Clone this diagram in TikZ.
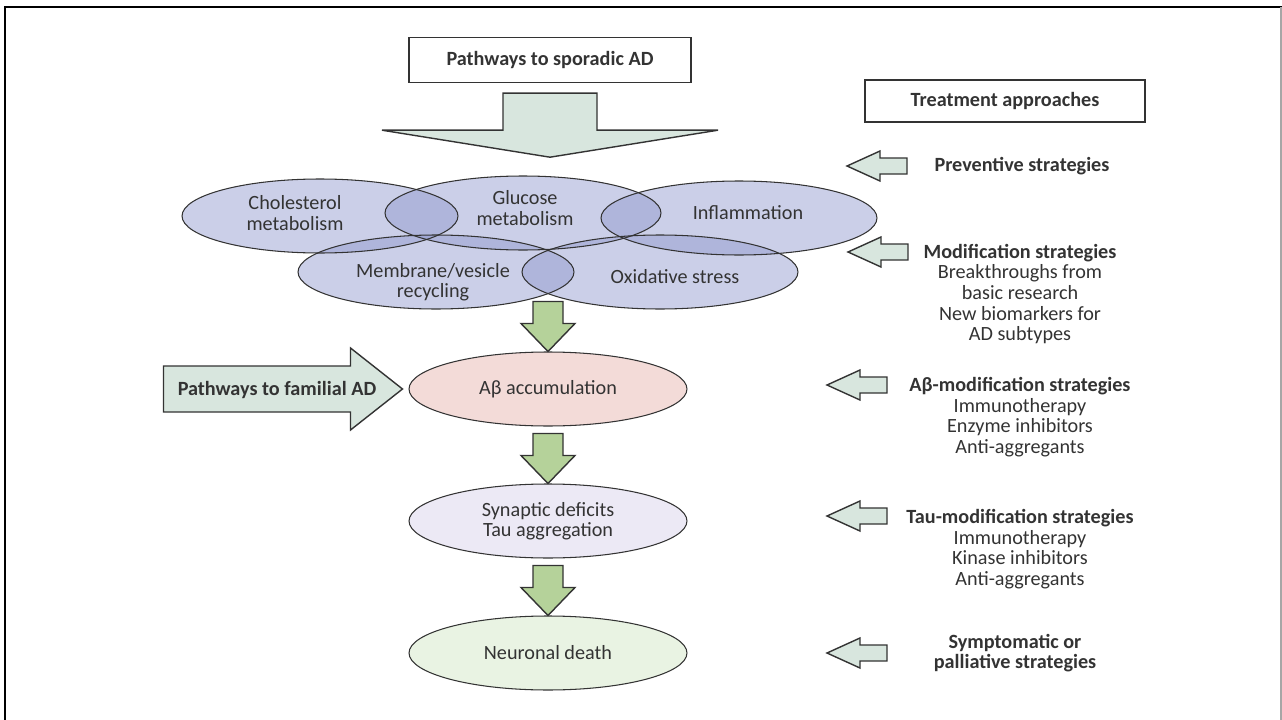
\documentclass[tikz,border=0pt]{standalone}
\usepackage{fontspec}
\setmainfont{Carlito}
\usepackage{tikz}
\usetikzlibrary{calc,positioning,shapes.geometric}
\definecolor{ink}{HTML}{333333}
\definecolor{blobx}{HTML}{8C95CC}
\definecolor{pinkx}{HTML}{F3DBD8}
\definecolor{lilacx}{HTML}{ECE9F5}
\definecolor{mintx}{HTML}{E9F3E3}
\definecolor{greenx}{HTML}{B5D29A}
\definecolor{palex}{HTML}{D8E6DE}
\tikzset{
  txt/.style={font=\fontsize{11.5pt}{11.7pt}\selectfont,text=ink,align=center,inner sep=0pt},
  hd/.style={txt,font=\fontsize{11.5pt}{11.7pt}\selectfont\bfseries},
  blob/.style={ellipse,minimum width=5.52cm,minimum height=1.48cm,inner sep=0pt},
  blobfill/.style={blob,fill=blobx,fill opacity=.45},
  stage/.style={ellipse,draw=ink,line width=0.6pt,minimum width=5.56cm,minimum height=1.48cm,txt},
  tag/.style={draw=ink,line width=0.8pt,minimum width=5.64cm,minimum height=0.9cm,hd},
  blk/.style={draw=ink,line width=0.8pt,line join=miter},
  downblk/.pic={\draw[blk,fill=greenx] (-15,-50) -- (15,-50) -- (15,-28) -- (27,-28) -- (0,0) -- (-27,-28) -- (-15,-28) -- cycle;},
  leftblk/.pic={\draw[blk,fill=palex] (0,0) -- (33,-15) -- (33,-8) -- (60,-8) -- (60,8) -- (33,8) -- (33,15) -- cycle;}
}
\begin{document}
\begin{tikzpicture}[x=0.02cm,y=-0.02cm]
\useasboundingbox (0,0) rectangle (1282,720);
\draw[line width=0.06cm] (5,720) -- (5,7) -- (1282,7);
\draw[black!35,line width=0.03cm] (1281,7) -- (1281,720);

\node[tag] (spor) at (550,60) {Pathways to sporadic AD};
\node[tag,minimum width=5.6cm,minimum height=0.84cm] (treat) at (1005,101) {Treatment approaches};
\draw[blk,fill=palex,shift={(spor.south)}] (-47,10) -- (47,10) -- (47,47) -- (168,47) -- (0,74) -- (-168,47) -- (-47,47) -- cycle;

\node[blobfill] (chol) at (320,216) {};
\node[blobfill] (gluc) at (523,213) {};
\node[blobfill] (infl) at (739,218) {};
\node[blobfill] (memb) at (436,272) {};
\node[blobfill] (oxid) at (660,272) {};
\foreach \n in {chol,gluc,infl,memb,oxid}
  \node[blob,draw=ink,line width=0.6pt] at (\n) {};
\node[txt] (tchol) at ($(chol)+(-25,-3)$) {Cholesterol\\metabolism};
\node[txt] (tgluc) at ($(gluc)+(2,-5)$) {Glucose\\metabolism};
\node[txt] (tinfl) at ($(infl)+(9,-5)$) {Inflammation};
\node[txt] (tmemb) at ($(memb)+(-3,10)$) {Membrane/vesicle\\recycling};
\node[txt] (toxid) at ($(oxid)+(15,5)$) {Oxidative stress};

\node[stage,fill=pinkx] (abeta) at (548,389) {Aβ accumulation};
\node[stage,fill=lilacx] (syn) at (548,521) {Synaptic deficits\\Tau aggregation};
\node[stage,fill=mintx] (neu) at (548,653) {Neuronal death};
\foreach \n in {abeta,syn,neu}
  \pic at (\n.north) {downblk};

\coordinate (famtip) at ($(abeta.west)+(-6,0)$);
\draw[blk,fill=palex,shift={(famtip)}] (0,0) -- (-52,-41) -- (-52,-23) -- (-239,-23) -- (-239,23) -- (-52,23) -- (-52,41) -- cycle;
\node[hd] (fam) at (277,390) {Pathways to familial AD};

\pic at (847,166) {leftblk};
\node[hd] (prev) at (1022,166) {Preventive strategies};
\pic at (848,252) {leftblk};
\node[txt] (modif) at (1020,294) {\textbf{Modification strategies}\\Breakthroughs from\\basic research\\New biomarkers for\\AD subtypes};
\pic at (827,385) {leftblk};
\node[txt] (abmod) at (1020,417) {\textbf{Aβ-modification strategies}\\Immunotherapy\\Enzyme inhibitors\\Anti-aggregants};
\pic at (827,516) {leftblk};
\node[txt] (taumod) at (1020,549) {\textbf{Tau-modification strategies}\\Immunotherapy\\Kinase inhibitors\\Anti-aggregants};
\pic at (827,653) {leftblk};
\node[hd] (sympt) at (1015,653) {Symptomatic or\\palliative strategies};
\end{tikzpicture}
\end{document}
